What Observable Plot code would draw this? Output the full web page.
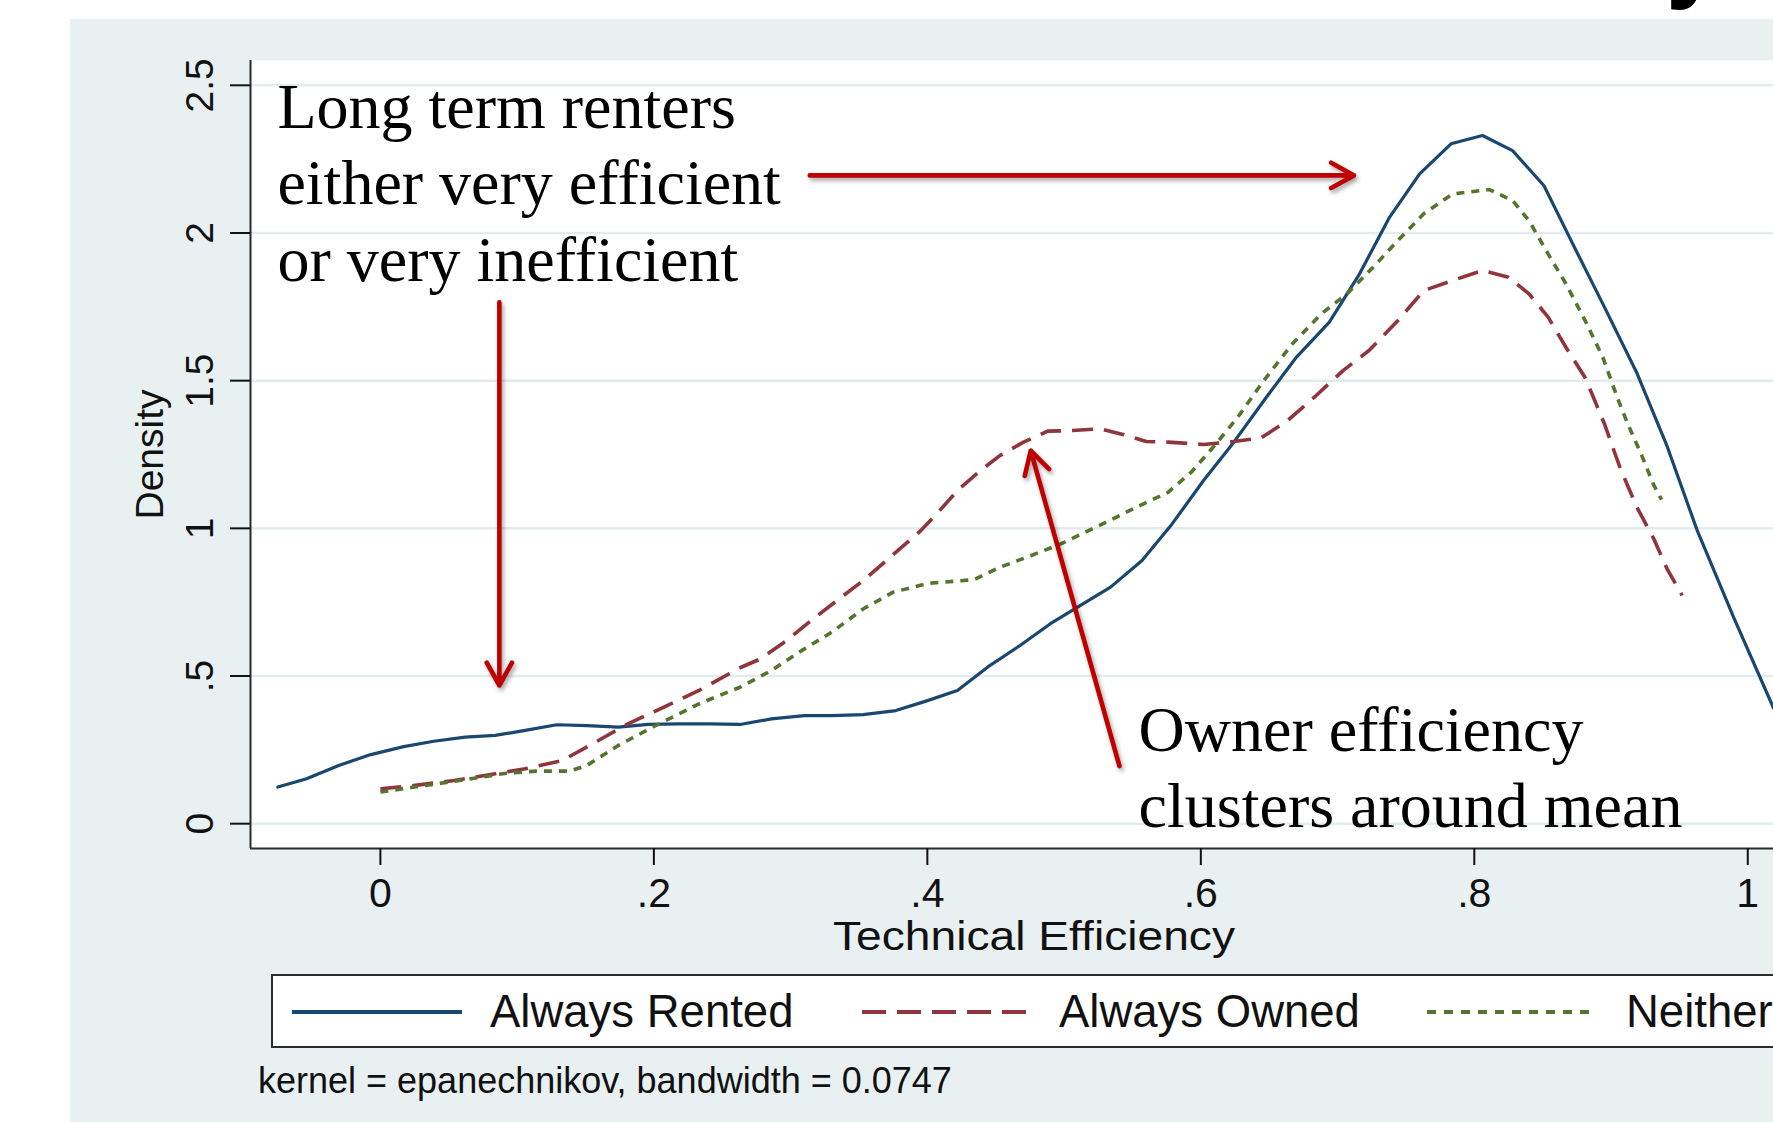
<!DOCTYPE html>
<html><head><meta charset="utf-8">
<script src="https://cdn.jsdelivr.net/npm/d3@7"></script>
<script src="https://cdn.jsdelivr.net/npm/@observablehq/plot@0.6"></script>
<style>
html,body{margin:0;padding:0;background:#fff;}
body{width:1773px;height:1122px;overflow:hidden;position:relative;font-family:"Liberation Sans",Arial,sans-serif;}
#panel{position:absolute;left:70px;top:19px;width:1703px;height:1103px;background:#E9F0F2;}
#chart{position:absolute;left:70px;top:19px;}
#legend{position:absolute;left:0;top:0;overflow:hidden;}
#slide{position:absolute;left:1666px;top:-96px;font:bold 100px "Liberation Sans",Arial,sans-serif;line-height:100px;color:#000;}
</style></head><body>
<div id="slide">y</div>
<div id="panel"></div>
<div id="chart"></div>
<svg id="legend" width="1773" height="1122"></svg>
<script>
// ---- data (x = technical efficiency, y = density) ----
const alwaysRented = [
  [-0.075,0.124],[-0.054,0.152],[-0.030,0.198],[-0.007,0.234],[0.017,0.261],[0.039,0.279],
  [0.062,0.293],[0.084,0.299],[0.106,0.316],[0.129,0.335],[0.151,0.332],[0.174,0.327],
  [0.196,0.336],[0.218,0.338],[0.241,0.338],[0.263,0.336],[0.286,0.355],[0.310,0.366],
  [0.330,0.366],[0.353,0.369],[0.377,0.383],[0.399,0.415],[0.422,0.451],[0.444,0.530],
  [0.467,0.601],[0.490,0.677],[0.534,0.801],[0.557,0.891],[0.579,1.015],[0.602,1.162],
  [0.624,1.291],[0.647,1.438],[0.670,1.580],[0.694,1.698],[0.716,1.861],[0.738,2.053],
  [0.760,2.200],[0.783,2.302],[0.806,2.330],[0.828,2.279],[0.851,2.160],[0.872,1.963],
  [0.894,1.760],[0.919,1.525],[0.941,1.278],[0.963,0.993],[0.990,0.695],[1.019,0.390]
];
const alwaysOwned = [
  [0.000,0.118],[0.024,0.129],[0.054,0.146],[0.084,0.169],[0.106,0.186],[0.133,0.214],
  [0.155,0.270],[0.181,0.338],[0.207,0.394],[0.233,0.451],[0.263,0.528],[0.278,0.558],
  [0.297,0.620],[0.315,0.688],[0.334,0.756],[0.353,0.823],[0.380,0.931],[0.394,0.987],
  [0.408,1.055],[0.422,1.128],[0.439,1.196],[0.453,1.246],[0.470,1.291],[0.488,1.329],
  [0.506,1.331],[0.526,1.337],[0.543,1.318],[0.560,1.294],[0.576,1.292],[0.602,1.284],
  [0.624,1.294],[0.644,1.306],[0.663,1.363],[0.683,1.444],[0.704,1.534],[0.723,1.602],
  [0.744,1.703],[0.763,1.805],[0.784,1.839],[0.806,1.873],[0.825,1.850],[0.840,1.794],
  [0.854,1.715],[0.867,1.613],[0.881,1.511],[0.895,1.356],[0.907,1.200],[0.919,1.071],
  [0.931,0.967],[0.941,0.863],[0.952,0.773]
];
const neither = [
  [0.000,0.107],[0.028,0.126],[0.062,0.149],[0.092,0.171],[0.114,0.178],[0.138,0.178],
  [0.151,0.197],[0.174,0.265],[0.200,0.329],[0.233,0.406],[0.263,0.462],[0.286,0.519],
  [0.308,0.586],[0.330,0.648],[0.353,0.727],[0.375,0.784],[0.401,0.814],[0.434,0.826],
  [0.453,0.868],[0.476,0.908],[0.498,0.948],[0.526,1.010],[0.554,1.074],[0.576,1.122],
  [0.593,1.190],[0.610,1.280],[0.627,1.376],[0.646,1.500],[0.667,1.625],[0.688,1.726],
  [0.707,1.794],[0.726,1.884],[0.744,1.974],[0.763,2.065],[0.784,2.132],[0.811,2.147],
  [0.828,2.110],[0.840,2.042],[0.854,1.929],[0.867,1.828],[0.881,1.704],[0.894,1.579],
  [0.905,1.438],[0.912,1.356],[0.922,1.252],[0.931,1.149],[0.937,1.097]
];
const seriesNames = ["Always Rented", "Always Owned", "Neither"];
const seriesColors = ["#1A476F", "#90353B", "#55752F"];
const seriesDash = [null, "21,11", "8,7"];

const xDomain = [-0.095, 1.051];
const yDomain = [-0.084, 2.584];
const xTicks = [0, 0.2, 0.4, 0.6, 0.8, 1];
const xTickLabels = ["0", ".2", ".4", ".6", ".8", "1"];
const yTicks = [0, 0.5, 1, 1.5, 2, 2.5];
const yTickLabels = ["0", ".5", "1", "1.5", "2", "2.5"];
const xTitle = "Technical Efficiency";
const yTitle = "Density";
const note = "kernel = epanechnikov, bandwidth = 0.0747";

const annotations = [
  {x: -0.0753, y: 1.839, text: "Long term renters\neither very efficient\nor very inefficient"},
  {x: 0.5545, y: -0.012, text: "Owner efficiency\nclusters around mean"}
];
const arrows = [
  {x1: 0.314, y1: 2.195, x2: 0.712, y2: 2.195},
  {x1: 0.087, y1: 1.765, x2: 0.087, y2: 0.468},
  {x1: 0.5405, y1: 0.195, x2: 0.4756, y2: 1.263}
];

// ---- chart ----
const series = [alwaysRented, alwaysOwned, neither];
const lineMarks = series.map((s, i) => Plot.line(s, {
  x: d => d[0], y: d => d[1],
  stroke: seriesColors[i], strokeWidth: i === 0 ? 3.2 : 3.6,
  strokeDasharray: seriesDash[i] || undefined,
  strokeLinecap: seriesDash[i] ? "butt" : "round"
}));

const chart = Plot.plot({
  width: 1760, height: 950,
  marginLeft: 180, marginRight: 13, marginTop: 41, marginBottom: 121,
  x: {domain: xDomain},
  y: {domain: yDomain},
  style: {background: "transparent", maxWidth: "none", overflow: "visible", fontFamily: "'Liberation Sans', Arial, sans-serif"},
  marks: [
    Plot.frame({fill: "white", stroke: null}),
    Plot.gridY(yTicks, {stroke: "#E2EBEE", strokeOpacity: 1, strokeWidth: 2.5}),
    ...lineMarks,
    Plot.ruleX([xDomain[0]], {stroke: "#2b2b2b", strokeWidth: 2}),
    Plot.ruleY([yDomain[0]], {stroke: "#2b2b2b", strokeWidth: 2}),
    Plot.axisY(yTicks, {anchor: "left", tickSize: 20, tickPadding: 18, tickRotate: -90,
      tickFormat: d => yTickLabels[yTicks.indexOf(d)], fontSize: 39, color: "#111", strokeWidth: 2, label: null}),
    Plot.axisX(xTicks, {anchor: "bottom", tickSize: 17, tickPadding: 12,
      tickFormat: d => xTickLabels[xTicks.indexOf(d)], fontSize: 41, color: "#111", strokeWidth: 2, label: null}),
    Plot.text([yTitle], {text: d => d, frameAnchor: "left", dx: -88, rotate: -90, lineAnchor: "bottom", textAnchor: "middle", fontSize: 39, fill: "#111"}),
    Plot.text([xTitle], {text: d => d, frameAnchor: "bottom", dy: 101, lineAnchor: "bottom", textAnchor: "middle", fontSize: 41, fill: "#111"}),
    Plot.text(annotations, {x: "x", y: "y", text: "text", textAnchor: "start", lineAnchor: "bottom", lineHeight: 1.19,
      fontFamily: "'Liberation Serif', 'Times New Roman', serif", fontSize: 64, fill: "#000"}),
    Plot.arrow(arrows, {x1: "x1", y1: "y1", x2: "x2", y2: "y2", stroke: "#C00000", strokeWidth: 4.6,
      headLength: 8.5, headAngle: 58, strokeLinejoin: "miter", strokeLinecap: "round"})
  ]
});
d3.select(chart).selectAll('g[aria-label="arrow"]').style("filter", "drop-shadow(2px 3px 2px rgba(0,0,0,0.35))");
// the reference's axis title is rendered slightly wider than the font's natural width
d3.select(chart).selectAll("text").filter(function() { return this.textContent === xTitle; })
  .attr("textLength", 402).attr("lengthAdjust", "spacingAndGlyphs");
document.getElementById("chart").appendChild(chart);

// ---- legend and note (below the plot, inside the graph region) ----
const lg = d3.select("#legend");
lg.append("rect").attr("x", 272).attr("y", 975).attr("width", 1600).attr("height", 72)
  .attr("fill", "white").attr("stroke", "#2b2b2b").attr("stroke-width", 2);
const sampleX = [292, 862, 1427];
const sampleW = [170, 173, 167];
const labelX = [490, 1059, 1626];
seriesNames.forEach((name, i) => {
  lg.append("line").attr("x1", sampleX[i]).attr("x2", sampleX[i] + sampleW[i]).attr("y1", 1012).attr("y2", 1012)
    .attr("stroke", seriesColors[i]).attr("stroke-width", 4)
    .attr("stroke-dasharray", seriesDash[i] ? (i === 1 ? "24,11" : "9,8") : null);
  lg.append("text").attr("x", labelX[i]).attr("y", 1027).attr("font-size", 45.5)
    .attr("font-family", "'Liberation Sans', Arial, sans-serif").attr("fill", "#111").text(name);
});
lg.append("text").attr("x", 258).attr("y", 1093).attr("font-size", 36)
  .attr("font-family", "'Liberation Sans', Arial, sans-serif").attr("fill", "#111").text(note);
</script>
</body></html>
